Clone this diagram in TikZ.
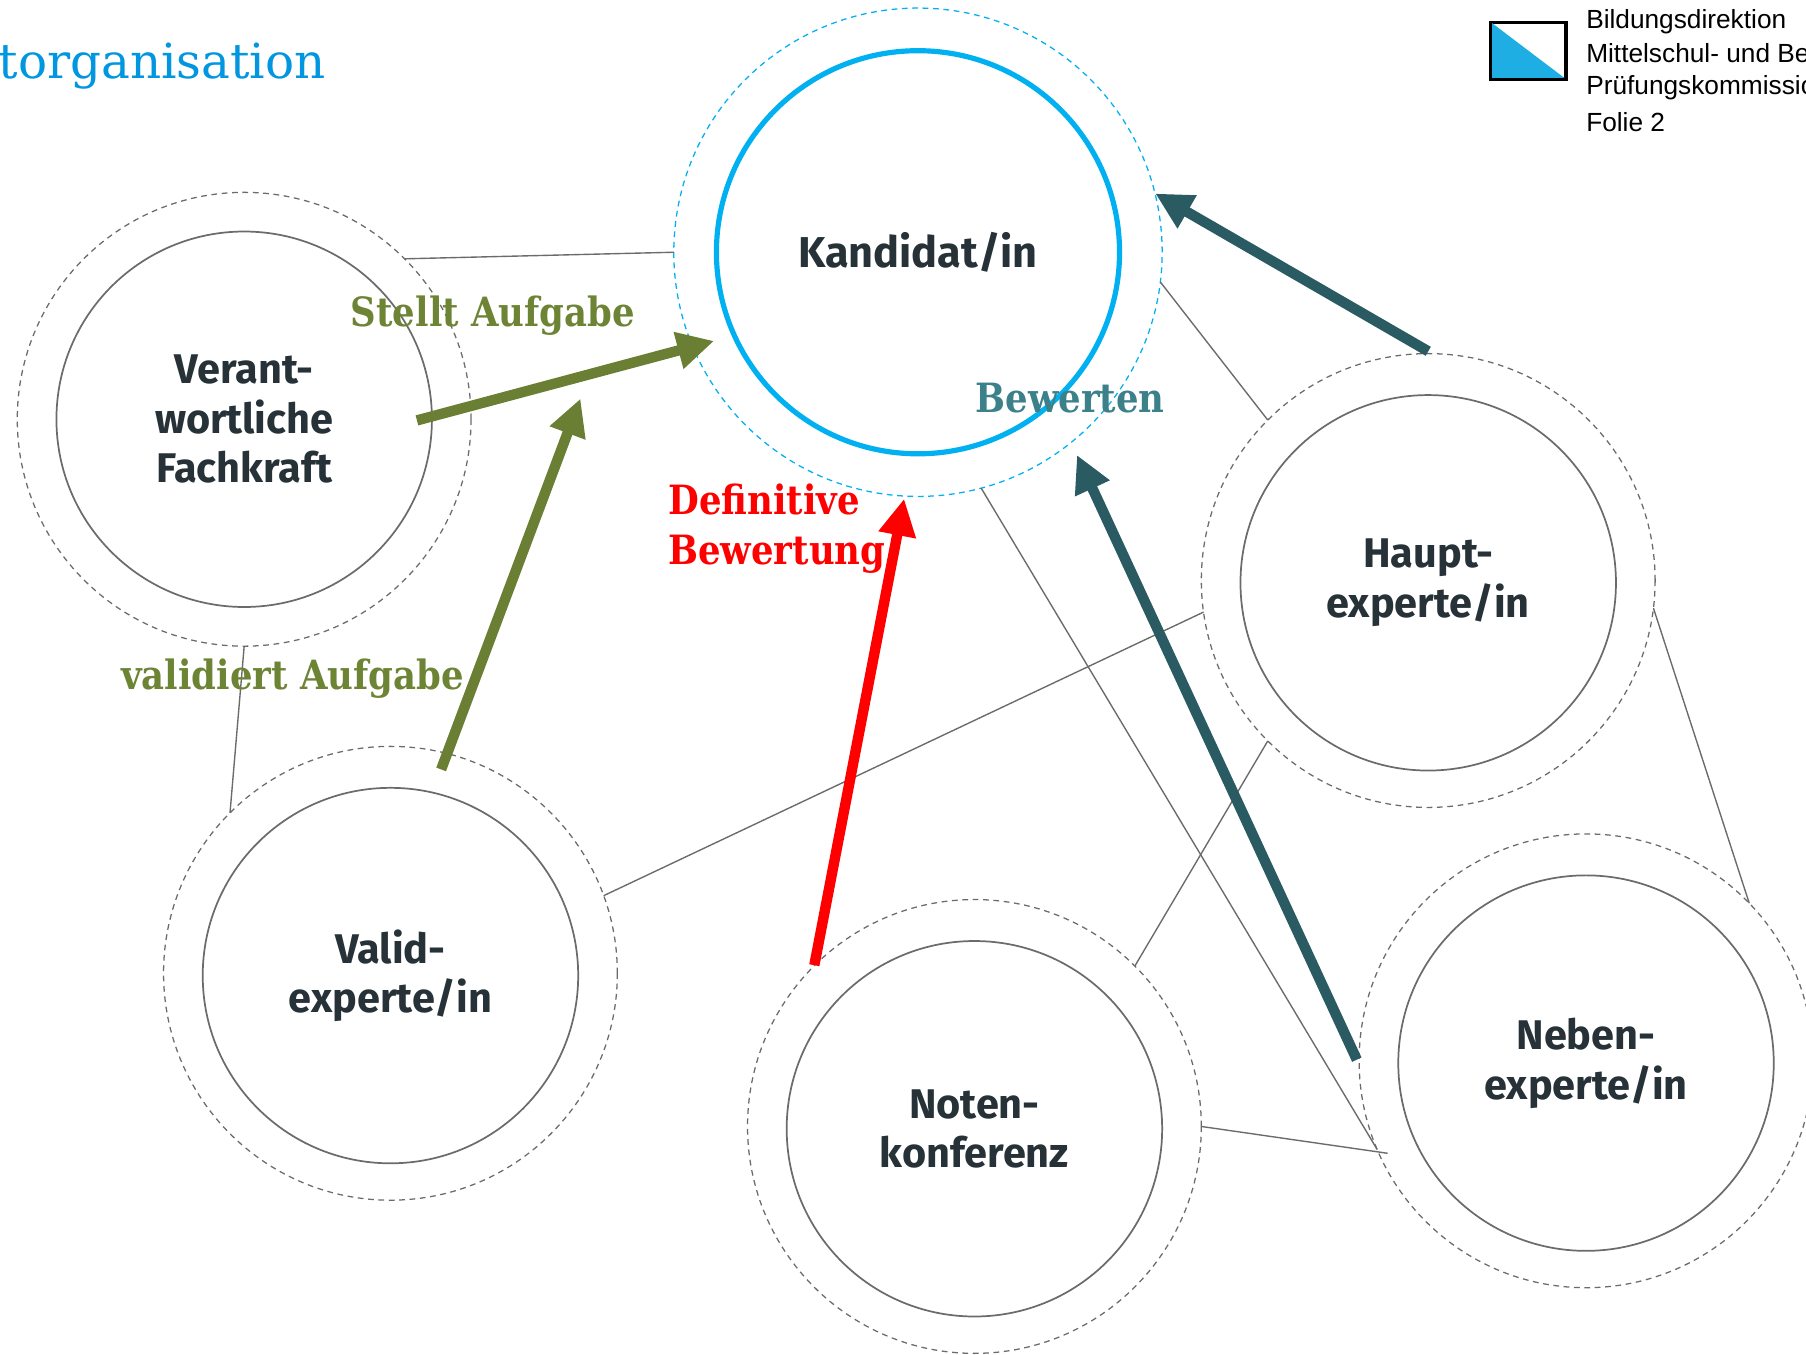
\documentclass[tikz,border=0pt]{standalone}
\usepackage{fontspec}
\setmainfont{Fira Sans}
\newfontfamily\labfont{DejaVu Serif}[FakeStretch=0.88]
\newfontfamily\titlefont{DejaVu Serif}
\newfontfamily\logofont{Liberation Sans}
\usetikzlibrary{arrows.meta,calc}
\definecolor{kcyan}{HTML}{00B0F0}
\definecolor{ring}{HTML}{6B6B6B}
\definecolor{nodetext}{HTML}{263238}
\definecolor{agreen}{HTML}{6A7F33}
\definecolor{lgreen}{HTML}{6E8435}
\definecolor{ateal}{HTML}{2A5A62}
\definecolor{lteal}{HTML}{3C808A}
\definecolor{titleblue}{HTML}{0096E0}
\definecolor{logocyan}{HTML}{1FAEE3}
\tikzset{
  innerring/.style={circle, draw=ring, line width=1.5pt, minimum size=326pt, inner sep=0pt, outer sep=0pt,
    text=nodetext, align=center, font=\bfseries\fontsize{36}{43}\selectfont},
  outerring/.style={circle, draw=ring, line width=1.1pt, dash pattern=on 5pt off 4pt, minimum size=394pt, inner sep=0pt, outer sep=0pt},
  link/.style={draw=ring, line width=1.2pt},
  bigarrow/.style={line width=9pt, -{Triangle[length=32pt,width=31pt]}},
  lab/.style={font=\labfont\bfseries\fontsize{35}{43}\selectfont, inner sep=0pt},
  logotext/.style={font=\logofont\fontsize{22.8}{24}\selectfont, anchor=west, inner sep=0pt}
}
\begin{document}
\begin{tikzpicture}[x=1pt,y=-1pt]
\useasboundingbox (0,0) rectangle (1568,1176);
\clip (0,0) rectangle (1568,1176);

% title and logo
\node[font=\titlefont\fontsize{42}{50}\selectfont, text=titleblue, anchor=base east, inner sep=0pt] (title) at (283,68) {Projektorganisation};
\node[draw=black, line width=2pt, minimum width=64pt, minimum height=48pt, inner sep=0pt, anchor=north west] (logo) at (1294,19) {};
\fill[logocyan] (logo.north west) -- (logo.south east) -- (logo.south west) -- cycle;
\draw[black, line width=2pt] (logo.north west) rectangle (logo.south east);
\node[logotext, anchor=base west] (l1) at (1377,25) {Bildungsdirektion};
\node[logotext, anchor=base west] (l2) at (1377,54) {Mittelschul- und Berufsbildungsamt};
\node[logotext, anchor=base west] (l3) at (1377,82) {Prüfungskommission};
\node[logotext, anchor=base west] (l4) at (1377,114) {Folie 2};

% rings
\node[outerring, draw=kcyan, minimum size=424pt] (ko) at (797,219) {};
\node[innerring, draw=kcyan, line width=4.5pt, minimum size=350pt, font=\bfseries\fontsize{37.5}{43}\selectfont] (k) at (797,219) {Kandidat/in};

\node[outerring] (vo) at (212,364) {};
\node[innerring] (v) at (212,364) {Verant-\\wortliche\\Fachkraft};

\node[outerring] (veo) at (339,845) {};
\node[innerring] (ve) at (339,847) {Valid-\\experte/in};

\node[outerring] (no) at (846,978) {};
\node[innerring] (n) at (846,980) {Noten-\\konferenz};

\node[outerring] (ho) at (1240,504) {};
\node[innerring] (h) at (1240,506) {Haupt-\\experte/in};

\node[outerring] (neo) at (1377,921) {};
\node[innerring] (ne) at (1377,923) {Neben-\\experte/in};

% thin links
\draw[link] (vo.45) -- (ko.180);
\draw[link] (ko.-7) -- (ho.135);
\draw[link] (ko.-75) -- (neo.203);
\draw[link] (no.0) -- ($(neo.center)+(205:190pt)$);
\draw[link] (vo.-90) -- (veo.135);
\draw[link] (veo.20) -- (ho.188);
\draw[link] (no.45) -- (ho.225);
\draw[link] (ho.-7.5) -- (neo.44);

% arrow end points
\coordinate (a1s) at (362,365);
\coordinate (a1e) at (620,296);
\coordinate (a2s) at (383,668);
\coordinate (a2e) at (504,346);
\coordinate (a3s) at (707,838);
\coordinate (a3e) at (785,433);
\coordinate (a4s) at (1240,305);
\coordinate (a4e) at (1003,168);
\coordinate (a5s) at (1178,920);
\coordinate (a5e) at (935,395);

\draw[bigarrow, agreen] (a1s) -- (a1e);
\draw[bigarrow, agreen] (a2s) -- (a2e);
\draw[bigarrow, red] (a3s) -- (a3e);
\draw[bigarrow, ateal] (a4s) -- (a4e);
\draw[bigarrow, ateal] (a5s) -- (a5e);

% labels
\node[lab, text=lgreen] (t1) at (428,274) {Stellt Aufgabe};
\node[lab, text=lgreen] (t2) at (254,589) {validiert Aufgabe};
\node[lab, text=red, align=left, anchor=base west] (t3) at (580,490) {Definitive\\Bewertung};
\node[lab, text=lteal] (t4) at (929,346) {Bewerten};
\end{tikzpicture}
\end{document}
